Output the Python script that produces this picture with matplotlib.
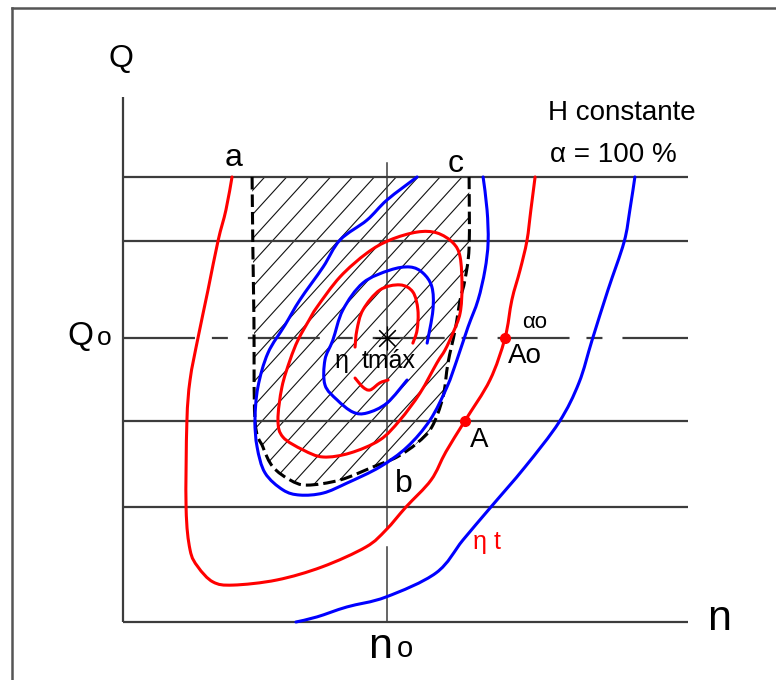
import numpy as np
import matplotlib
matplotlib.use("Agg")
import matplotlib.pyplot as plt
from matplotlib.path import Path
from matplotlib.patches import PathPatch
from matplotlib.collections import LineCollection
from matplotlib.lines import Line2D

plt.rcParams["lines.scale_dashes"] = False
plt.rcParams["font.family"] = ["Liberation Sans", "DejaVu Sans"]

# Hill chart of a turbine at constant head: speed n and flow Q in % of the
# best-efficiency point (n_o, Q_o).
N0, Q0 = 100.0, 100.0
N_MAX, Q_MAX = 214.0, 184.9
q_levels = [156.7, 134.2, 70.8, 40.5]

# outer blue efficiency curve
blue_outer_n = [65.5, 73.5, 84.8, 99.6, 118.6, 128.8, 139.0, 152.3, 165.2, 172.7, 177.7, 183.7, 189.8, 192.0, 193.9]
blue_outer_q = [0.0, 1.8, 5.3, 8.8, 17.3, 28.9, 40.1, 54.6, 70.4, 84.2, 99.3, 116.9, 133.8, 145.1, 156.7]

# outer red efficiency curve (eta t)
red_outer_n = [41.3, 39.0, 36.0, 32.2, 28.4, 25.4, 24.2, 23.9, 25.4, 28.4, 34.1, 41.7, 58.3, 75.4,
               92.0, 99.6, 107.2, 116.7, 122.3, 129.5, 139.0, 144.7, 147.3, 150.4, 153.0, 154.5, 156.1]
red_outer_q = [156.7, 145.1, 134.2, 116.9, 100.0, 85.2, 70.4, 40.1, 25.4, 19.4, 14.1, 13.0, 14.8, 19.4,
               26.4, 32.4, 40.5, 50.0, 59.9, 70.8, 85.2, 100.0, 113.4, 123.9, 134.2, 145.1, 156.7]

# middle blue curve (open at the top)
blue_mid_n = [111.4, 100.0, 92.4, 82.2, 75.8, 67.0, 61.4, 54.9, 51.1, 50.0, 50.8, 53.8, 60.6, 67.0,
              75.8, 84.8, 97.3, 107.6, 116.3, 122.7, 126.5, 130.7, 134.5, 137.1, 138.3, 137.9, 136.4]
blue_mid_q = [156.7, 148.6, 141.5, 134.5, 125.0, 113.4, 104.6, 94.7, 82.7, 71.1, 61.6, 52.5, 46.5, 44.7,
              45.4, 48.9, 54.6, 61.6, 71.1, 82.7, 92.3, 103.9, 113.4, 123.9, 133.8, 145.1, 156.7]

# middle red curve (closed)
red_mid_n = [111.4, 118.9, 125.0, 127.7, 128.4, 127.7, 125.0, 122.0, 118.9, 112.5, 104.9, 97.3, 86.0,
             75.8, 68.2, 60.6, 58.7, 60.2, 63.3, 66.3, 70.5, 73.5, 82.2, 92.4, 101.1]
red_mid_q = [137.3, 137.0, 133.5, 128.5, 118.0, 108.8, 101.8, 95.8, 91.2, 80.6, 71.1, 64.1, 59.5,
             58.1, 60.6, 65.1, 71.1, 82.7, 92.3, 99.3, 106.3, 110.9, 121.5, 129.9, 134.5]

# inner blue curve
blue_in_n = [115.2, 117.4, 117.0, 113.6, 108.7, 101.1, 90.9, 83.3, 79.5, 76.5, 76.5, 81.1, 87.1, 92.4, 100.0, 107.6]
blue_in_q = [98.2, 109.9, 118.0, 122.9, 125.0, 123.9, 119.4, 109.9, 99.3, 92.3, 83.5, 78.2, 73.9, 73.6, 77.1, 85.2]

# innermost red curve (two pieces around the label)
red_in_top_n = [87.9, 88.6, 90.9, 97.3, 104.9, 109.8, 111.7, 111.4, 109.8]
red_in_top_q = [96.8, 102.8, 109.9, 116.9, 118.7, 116.2, 109.9, 102.8, 98.2]
red_in_bot_n = [87.9, 90.9, 93.6, 97.3, 100.4]
red_in_bot_q = [85.9, 82.7, 81.7, 84.2, 85.2]

# operating range boundary a - b - c
range_n = [48.9, 49.2, 49.6, 50.0, 53.0, 56.8, 63.3, 69.7, 82.2, 94.7, 103.8, 111.4, 117.0,
           121.2, 123.1, 125.8, 127.7, 129.5, 131.1, 131.1]
range_q = [156.7, 131.0, 106.3, 71.1, 61.6, 54.6, 50.0, 48.2, 50.0, 54.6, 58.1, 63.0, 68.7,
           79.2, 91.2, 102.8, 113.4, 120.4, 132.0, 156.7]

# operating points A and Ao
point_n = [129.5, 144.7]
point_q = [70.8, 100.0]

RED = "#ff0000"
BLUE = "#0000ff"
GREY = "#3c3c3c"


def smooth_path(xs, ys, closed=False, close_straight=False):
    pts = np.column_stack([xs, ys]).astype(float)
    n = len(pts)

    def get(i):
        if closed:
            return pts[i % n]
        return pts[min(max(i, 0), n - 1)]

    nseg = n if closed else n - 1
    verts = [pts[0]]
    codes = [Path.MOVETO]
    for i in range(nseg):
        p0, p1, p2, p3 = get(i - 1), get(i), get(i + 1), get(i + 2)
        c1 = p1 + (p2 - p0) / 6.0
        c2 = p2 - (p3 - p1) / 6.0
        verts += [c1, c2, p2]
        codes += [Path.CURVE4] * 3
    if closed or close_straight:
        verts.append(pts[0])
        codes.append(Path.CLOSEPOLY)
    return Path(verts, codes)


fig = plt.figure(figsize=(7.76, 6.8), dpi=100)
ax = fig.add_axes([0, 0, 1, 1])
ax.set_xlim(-46.59, 247.35)
ax.set_ylim(-20.42, 219.01)
ax.axis("off")

# outer frame
fig.add_artist(Line2D([12 / 776, 1.0], [1 - 8 / 680, 1 - 8 / 680], color="#555555", lw=1.8))
fig.add_artist(Line2D([12 / 776, 12 / 776], [0.0, 1 - 8 / 680], color="#555555", lw=1.8))

# hatched operating range
region = PathPatch(smooth_path(range_n, range_q, close_straight=True),
                   facecolor="none", edgecolor="none")
ax.add_patch(region)
slope = 1.1 * 2.64 / 2.84
starts = np.arange(-120.0, 160.0, 8.3)
segs = [[(c, 30.0), (c + 140.0 / slope, 170.0)] for c in starts]
hatch = LineCollection(segs, colors="#111111", linewidths=0.8, zorder=1)
ax.add_collection(hatch)
hatch.set_clip_path(region)

# axes and reference lines
ax.plot([0, N_MAX], [0, 0], color=GREY, lw=1.6, zorder=2, solid_capstyle="butt")
ax.plot([0, 0], [0, Q_MAX], color=GREY, lw=1.6, zorder=2, solid_capstyle="butt")
for q in q_levels:
    ax.plot([0, N_MAX], [q, q], color=GREY, lw=1.6, zorder=2, solid_capstyle="butt")
ax.plot([0, N_MAX], [Q0, Q0], color=GREY, lw=1.6, zorder=2,
        dashes=[51.8, 12.2, 11.5, 14.4], solid_capstyle="butt", dash_capstyle="butt")
ax.plot([N0, N0], [161.6, 33.1], color=GREY, lw=1.1, zorder=2)
ax.plot([N0, N0], [26.4, 0], color=GREY, lw=1.1, zorder=2)

# boundary of the operating range
ax.add_patch(PathPatch(smooth_path(range_n, range_q), facecolor="none", edgecolor="black",
                       lw=2.2, linestyle=(0, (9, 3.6)), zorder=3))

# efficiency curves
for xs, ys, col, closed in [
    (blue_outer_n, blue_outer_q, BLUE, False),
    (red_outer_n, red_outer_q, RED, False),
    (blue_mid_n, blue_mid_q, BLUE, False),
    (red_mid_n, red_mid_q, RED, True),
    (blue_in_n, blue_in_q, BLUE, False),
    (red_in_top_n, red_in_top_q, RED, False),
    (red_in_bot_n, red_in_bot_q, RED, False),
]:
    ax.add_patch(PathPatch(smooth_path(xs, ys, closed=closed), facecolor="none",
                           edgecolor=col, lw=2.2, zorder=4, capstyle="round"))

# best-efficiency point and operating points
ax.plot([N0], [Q0], marker=(8, 2, 0), markersize=17, color="black", mew=0.8, zorder=5)
ax.plot(point_n, point_q, "o", color=RED, markersize=7, zorder=5)

# labels
txt = dict(color="black", zorder=6)
ax.text(-0.8, 198.2, "Q", fontsize=23, ha="center", va="center", **txt)
ax.text(-21.2, 97.5, "Q", fontsize=24, ha="left", va="baseline", **txt)
ax.text(-9.8, 97.5, "o", fontsize=19, ha="left", va="baseline", **txt)
ax.text(221.2, -2.8, "n", fontsize=31, ha="left", va="baseline", **txt)
ax.text(92.8, -12.7, "n", fontsize=31, ha="left", va="baseline", **txt)
ax.text(103.8, -12.3, "o", fontsize=21, ha="left", va="baseline", **txt)
ax.text(161.0, 176.8, "H constante", fontsize=20, ha="left", va="baseline", **txt)
ax.text(161.7, 162.0, "α = 100 %", fontsize=20, ha="left", va="baseline", **txt)
ax.text(41.7, 160.6, "a", fontsize=23, ha="center", va="baseline", **txt)
ax.text(126.1, 158.5, "c", fontsize=23, ha="center", va="baseline", **txt)
ax.text(103.0, 45.8, "b", fontsize=23, ha="left", va="baseline", **txt)
ax.text(131.4, 61.6, "A", fontsize=20, ha="left", va="baseline", **txt)
ax.text(145.8, 91.2, "Ao", fontsize=20, ha="left", va="baseline", **txt)
ax.text(151.1, 103.5, "αo", fontsize=16, ha="left", va="baseline", **txt)
ax.text(132.6, 25.7, "η t", fontsize=18, ha="left", va="baseline", color=RED, zorder=6)
ax.text(80.3, 89.4, "η", fontsize=18, ha="left", va="baseline", **txt)
ax.text(90.5, 89.4, "tmáx", fontsize=18, ha="left", va="baseline", **txt)

fig.savefig("out.png", dpi=100)
